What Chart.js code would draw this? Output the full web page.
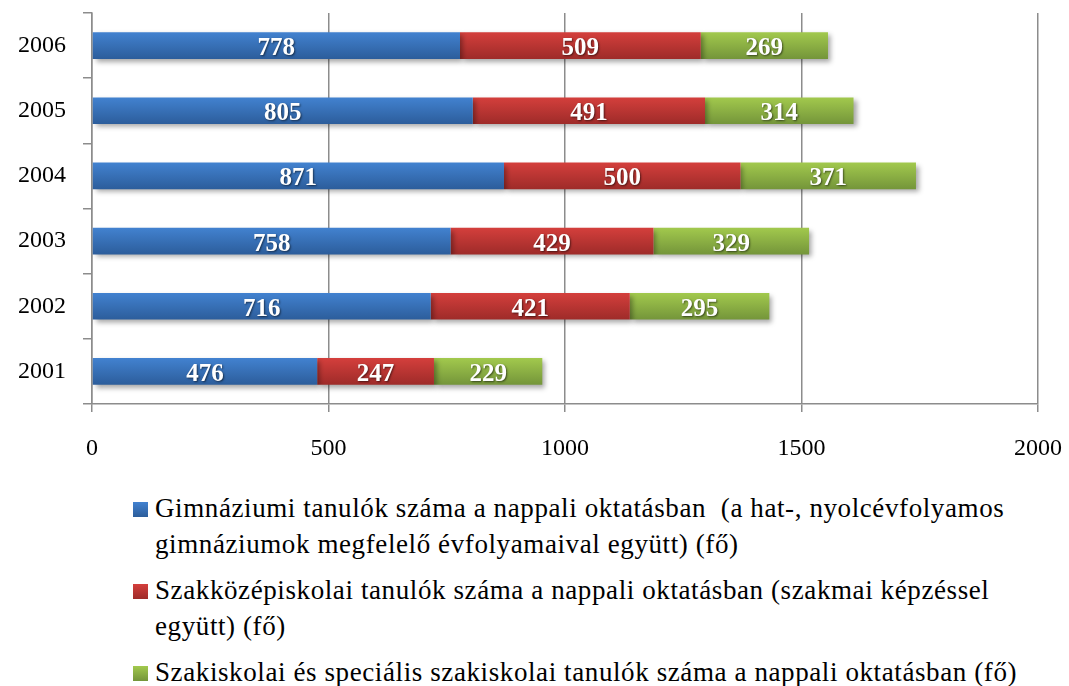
<!DOCTYPE html>
<html>
<head>
<meta charset="utf-8">
<script src="https://cdn.jsdelivr.net/npm/chart.js@4.4.1/dist/chart.umd.min.js"></script>
<style>
  body { margin: 0; background: #fff; }
  #wrap { position: relative; width: 1069px; height: 686px; }
  #chart { position: absolute; left: 0; top: 0; }
  #legend { position: absolute; left: 133px; top: 490px; width: 900px;
            font-family: "Liberation Serif", serif; font-size: 27px; letter-spacing: 0.6px; color: #000; }
  .item { display: flex; align-items: flex-start; line-height: 36px; margin-bottom: 10px; }
  .item span:last-child { white-space: pre-wrap; }
  .box { width: 15px; height: 15px; flex: none; margin-top: 12px; margin-right: 7px; }
</style>
</head>
<body>
<div id="wrap">
  <canvas id="chart" width="1069" height="470"></canvas>
  <div id="legend"></div>
</div>
<script>
// adatok (2001 -> 2006)
const evek = ['2001', '2002', '2003', '2004', '2005', '2006'];
const gimnazium = [476, 716, 758, 871, 805, 778];
const szakkozep = [247, 421, 429, 500, 491, 509];
const szakiskola = [229, 295, 329, 371, 314, 269];
const xTicks = [0, 500, 1000, 1500, 2000];

const nevek = [
    'Gimnáziumi tanulók száma a nappali oktatásban  (a hat-, nyolcévfolyamos gimnáziumok megfelelő évfolyamaival együtt) (fő)',
    'Szakközépiskolai tanulók száma a nappali oktatásban (szakmai képzéssel együtt) (fő)',
    'Szakiskolai és speciális szakiskolai tanulók száma a nappali oktatásban (fő)'
];

// top / bottom color of each bar gradient
const szinek = [
    ['#4282d0', '#2c5d9b'],
    ['#d43f3c', '#9e2b29'],
    ['#a2c94d', '#74953a']
];

const BAR_PCT = 0.41;

// vertical gradient per bar, computed from the category scale
function gradiens(i) {
    return c => {
        const chart = c.chart;
        const y = chart.scales.y;
        if (!chart.chartArea || !y || c.type !== 'data') return szinek[i][0];
        const cy = y.getPixelForValue(c.dataIndex);
        const half = Math.abs(y.getPixelForValue(1) - y.getPixelForValue(0)) * BAR_PCT / 2;
        const g = chart.ctx.createLinearGradient(0, cy - half, 0, cy + half);
        g.addColorStop(0, szinek[i][0]);
        g.addColorStop(1, szinek[i][1]);
        return g;
    };
}

// shadow under the bars
const arnyek = {
    id: 'arnyek',
    beforeDatasetDraw(chart) {
        const ctx = chart.ctx;
        ctx.save();
        ctx.shadowColor = 'rgba(0,0,0,0.35)';
        ctx.shadowBlur = 5;
        ctx.shadowOffsetX = 3;
        ctx.shadowOffsetY = 3;
    },
    afterDatasetDraw(chart) {
        chart.ctx.restore();
    }
};

// value labels in the middle of each segment
const ertekCimkek = {
    id: 'ertekCimkek',
    afterDatasetsDraw(chart) {
        const ctx = chart.ctx;
        ctx.save();
        ctx.font = 'bold 25px "Liberation Serif", serif';
        ctx.fillStyle = '#fff';
        ctx.textAlign = 'center';
        ctx.textBaseline = 'middle';
        ctx.shadowColor = 'rgba(0,0,0,0.55)';
        ctx.shadowBlur = 2;
        ctx.shadowOffsetX = 1;
        ctx.shadowOffsetY = 1;
        chart.data.datasets.forEach((ds, i) => {
            chart.getDatasetMeta(i).data.forEach((el, j) => {
                ctx.fillText(ds.data[j], (el.x + el.base) / 2, el.y + 3);
            });
        });
        ctx.restore();
    }
};

const datasets = [gimnazium, szakkozep, szakiskola].map((d, i) => ({
    label: nevek[i],
    data: d,
    backgroundColor: gradiens(i),
    borderWidth: 0,
    categoryPercentage: 1,
    barPercentage: BAR_PCT
}));

const gridColor = '#8c8c8c';
const tickFont = { family: '"Liberation Serif", serif', size: 24 };

new Chart(document.getElementById('chart'), {
    type: 'bar',
    data: { labels: evek, datasets: datasets },
    plugins: [arnyek, ertekCimkek],
    options: {
        indexAxis: 'y',
        responsive: false,
        devicePixelRatio: 1,
        animation: false,
        layout: { padding: { top: 13, right: 31, left: 0, bottom: 0 } },
        plugins: { legend: { display: false }, tooltip: { enabled: false } },
        scales: {
            x: {
                stacked: true,
                min: 0,
                max: 2000,
                afterBuildTicks: s => { s.ticks = xTicks.map(v => ({ value: v })); },
                afterFit: s => { s.height = 66; s.paddingLeft = 0; s.paddingRight = 0; },
                grid: { color: gridColor, lineWidth: 1.5, tickLength: 8 },
                border: { color: gridColor, width: 1.5 },
                ticks: { color: '#000', padding: 22, font: tickFont, callback: v => String(v) }
            },
            y: {
                stacked: true,
                reverse: true,
                afterFit: s => { s.width = 92; s.paddingTop = 0; s.paddingBottom = 0; },
                grid: { drawOnChartArea: false, color: gridColor, lineWidth: 1.5, tickLength: 9, offset: true },
                border: { color: gridColor, width: 1.5 },
                ticks: { color: '#000', padding: 17, font: tickFont }
            }
        }
    }
});

// legend below the chart, wraps like the original
const legend = document.getElementById('legend');
nevek.forEach((n, i) => {
    const item = document.createElement('div');
    item.className = 'item';
    const box = document.createElement('span');
    box.className = 'box';
    box.style.background = 'linear-gradient(' + szinek[i][0] + ',' + szinek[i][1] + ')';
    const txt = document.createElement('span');
    txt.textContent = n;
    item.appendChild(box);
    item.appendChild(txt);
    legend.appendChild(item);
});
</script>
</body>
</html>
